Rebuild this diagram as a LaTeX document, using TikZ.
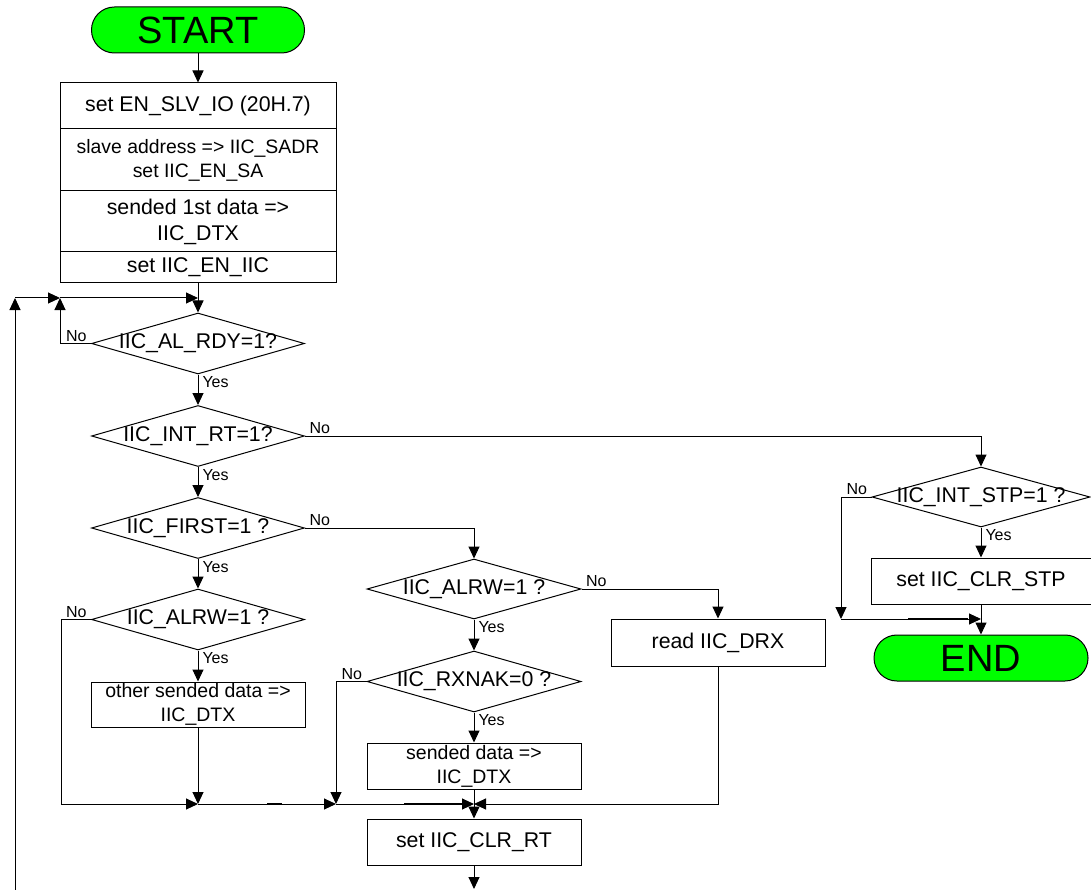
\documentclass[tikz,border=0pt]{standalone}
\usepackage{fontspec}
\setmainfont{Liberation Sans}
\usetikzlibrary{shapes.geometric,arrows.meta}
\definecolor{termgreen}{RGB}{0,255,0}
\newcommand{\dtxt}[1]{\makebox[0pt]{#1}}

\begin{document}
\begin{tikzpicture}[x=1pt,y=-1pt,line width=1pt,
  arr/.style={-{Triangle[length=12pt,width=11pt]}},
  term/.style={draw,fill=termgreen,rounded corners=22.9pt,minimum width=213pt,minimum height=46pt,inner sep=0pt,font=\fontsize{38}{40}\selectfont},
  proc/.style={draw,minimum width=214pt,inner sep=0pt,align=center,font=\fontsize{21.3}{26}\selectfont},
  small/.style={font=\fontsize{19.5}{24}\selectfont},
  dec/.style={diamond,draw,minimum width=213pt,minimum height=61pt,inner sep=0pt,font=\fontsize{21.3}{26}\selectfont},
  lbl/.style={inner xsep=4pt,inner ysep=1.5pt,font=\fontsize{16}{18}\selectfont},
  stub/.style={line width=2.5pt}]
\useasboundingbox (0,0) rectangle (1091,890);
\clip (0,0) rectangle (1091,890);

% start and set up
\node[term] (start) at (198,30) {START};
\node[proc,minimum width=276pt,minimum height=46pt] (s1) at (198,106) {set EN\_SLV\_IO (20H.7)};
\node[proc,small,minimum width=276pt,minimum height=62pt,font=\fontsize{19.4}{24}\selectfont] (s2) at (198,160) {slave address => IIC\_SADR\\set IIC\_EN\_SA};
\node[proc,minimum width=276pt,minimum height=61pt] (s3) at (198,221.5) {sended 1st data =>\\IIC\_DTX};
\node[proc,minimum width=276pt,minimum height=31pt] (s4) at (198,267.5) {set IIC\_EN\_IIC};
\draw[arr] (start.south) -- (s1.north);

% wait loop
\coordinate (lp) at (15,298);
\coordinate (ln) at (60,298);
\coordinate (jt) at (198,298);
\coordinate (lb) at (15,890);
\node[dec] (d1) at (198,343.5) {\dtxt{IIC\_AL\_RDY=1?}};
\draw[arr] (s4.south) -- (d1.north);
\draw[arr] (lb) -- (lp);
\draw[arr] (lp) -- (ln);
\draw[arr] (ln) -- (jt);
\draw[arr] (d1.west) -| (ln);
\node[lbl,above left] (n1) at (d1.west) {No};
\node[lbl,below right] (y1) at (d1.south) {Yes};

\node[dec] (d2) at (198,436) {\dtxt{IIC\_INT\_RT=1?}};
\draw[arr] (d1.south) -- (d2.north);
\node[lbl,above right] (n2) at (d2.east) {No};
\node[lbl,below right] (y2) at (d2.south) {Yes};

\node[dec] (d3) at (198,528) {\dtxt{IIC\_FIRST=1 ?}};
\draw[arr] (d2.south) -- (d3.north);
\node[lbl,above right] (n3) at (d3.east) {No};
\node[lbl,below right] (y3) at (d3.south) {Yes};

% first byte branch
\node[dec] (d4) at (198,619.5) {\dtxt{IIC\_ALRW=1 ?}};
\draw[arr] (d3.south) -- (d4.north);
\node[lbl,above left] (n4) at (d4.west) {No};
\node[lbl,below right] (y4) at (d4.south) {Yes};
\node[proc,small,minimum height=45pt] (p1) at (198,704.5) {other sended data =>\\IIC\_DTX};
\draw[arr] (d4.south) -- (p1.north);

% other bytes
\node[dec,minimum width=214pt,minimum height=60pt] (d5) at (474,589) {\dtxt{IIC\_ALRW=1 ?}};
\draw[arr] (d3.east) -| (d5.north);
\node[lbl,above right] (n5) at (d5.east) {No};
\node[lbl,below right] (y5) at (d5.south) {Yes};
\node[proc,minimum height=47pt] (p3) at (718,642.5) {read IIC\_DRX};
\draw[arr] (d5.east) -| (p3.north);

\node[dec,minimum width=214pt] (d6) at (474,681.5) {\dtxt{IIC\_RXNAK=0 ?}};
\draw[arr] (d5.south) -- (d6.north);
\node[lbl,above left] (n6) at (d6.west) {No};
\node[lbl,below right] (y6) at (d6.south) {Yes};
\node[proc,small,minimum height=46pt] (p2) at (474,766) {sended data =>\\IIC\_DTX};
\draw[arr] (d6.south) -- (p2.north);

% merge
\coordinate (m1) at (61,804);
\coordinate (m2) at (198,804);
\coordinate (m3) at (336,804);
\coordinate (m4) at (474,804);
\coordinate (ex) at (474,889);
\node[proc,minimum height=46pt] (p4) at (474,842) {set IIC\_CLR\_RT};
\draw[arr] (d4.west) -| (m1) -- (m2);
\draw[arr] (p1.south) -- (m2);
\draw[arr] (m2) -- (m3);
\draw[arr] (d6.west) -| (m3);
\draw[arr] (m3) -- (m4);
\draw[arr] (p3.south) |- (m4);
\draw[arr] (p2.south) -- (p4.north);
\draw[arr] (p4.south) -- (ex);
\draw[stub] (267,804) -- (282,804);
\draw[stub] (404,804) -- (462,804);

% stop condition
\node[dec,minimum width=218pt,minimum height=60pt] (d7) at (981,497) {\dtxt{IIC\_INT\_STP=1 ?}};
\draw[arr] (d2.east) -| (d7.north);
\node[lbl,above left] (n7) at (d7.west) {No};
\node[lbl,below right] (y7) at (d7.south) {Yes};
\node[proc,minimum width=220pt,minimum height=46pt] (p5) at (981,581) {set IIC\_CLR\_STP};
\draw[arr] (d7.south) -- (p5.north);
\node[term,minimum width=214pt] (fin) at (981,658) {END};
\coordinate (sj) at (841,619);
\coordinate (sm) at (981,619);
\draw[arr] (d7.west) -| (sj);
\draw[arr] (sj) -- (sm);
\draw[arr] (p5.south) -- (fin.north);
\draw[stub] (908,619) -- (968,619);
\end{tikzpicture}
\end{document}
